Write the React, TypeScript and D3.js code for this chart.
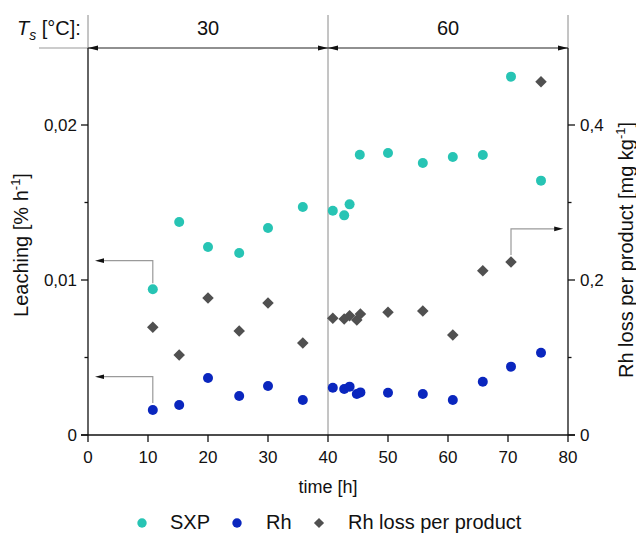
import React from "react";
import * as d3 from "d3";

// ---- data ----
const sxpTime = [10.8, 15.2, 20, 25.2, 30, 35.8, 40.8, 42.7, 43.6, 45.3, 50, 55.8, 60.8, 65.8, 70.5, 75.5];
const sxpLeaching = [0.0094, 0.01374, 0.01213, 0.01174, 0.01335, 0.01471, 0.01447, 0.01417, 0.01488, 0.01808, 0.01819, 0.01755, 0.01794, 0.01806, 0.02312, 0.01641];

const rhTime = [10.8, 15.2, 20, 25.2, 30, 35.8, 40.8, 42.7, 43.6, 44.8, 45.4, 50, 55.8, 60.8, 65.8, 70.5, 75.5];
const rhLeaching = [0.00161, 0.00194, 0.00368, 0.00252, 0.00316, 0.00226, 0.00305, 0.00297, 0.00312, 0.00265, 0.00275, 0.00273, 0.00265, 0.00226, 0.00344, 0.00441, 0.00531];
const rhLossPerProduct = [0.139, 0.1032, 0.1768, 0.1342, 0.1703, 0.1187, 0.1506, 0.1497, 0.1539, 0.1484, 0.1561, 0.1583, 0.16, 0.129, 0.212, 0.2232, 0.4559];

const xTicks = [0, 10, 20, 30, 40, 50, 60, 70, 80];
const leftTicks = [0, 0.01, 0.02];
const leftTickLabels = ["0", "0,01", "0,02"];
const leftMinor = [0.005, 0.015];
const rightTicks = [0, 0.2, 0.4];
const rightTickLabels = ["0", "0,2", "0,4"];
const rightMinor = [0.1, 0.3];

const phases = [
  { from: 0, to: 40, label: "30" },
  { from: 40, to: 80, label: "60" },
];

const legendItems = ["SXP", "Rh", "Rh loss per product"];

const CYAN = "#27C4B4";
const BLUE = "#0A26BE";
const GRAY = "#505050";
const FONT = "'Liberation Sans', Arial, Helvetica, sans-serif";

export default function App() {
  const x = d3.scaleLinear().domain([0, 80]).range([88, 568]);
  const yL = d3.scaleLinear().domain([0, 0.025]).range([435, 47.5]);
  const yR = d3.scaleLinear().domain([0, 0.5]).range([435, 47.5]);

  const diamond = d3.symbol().type(d3.symbolDiamond2).size(85)();
  const legendDiamond = d3.symbol().type(d3.symbolDiamond2).size(66)();

  const topY = 48;
  const headL = 10;
  const headW = 2.6;

  const arrowHead = (tx: number, ty: number, dir: number, len = headL, w = headW) =>
    `M${tx},${ty} L${tx - dir * len},${ty - w} L${tx - dir * len},${ty + w} Z`;

  // annotation arrows (data coordinates)
  const annSxpTop = yL(0.01125);
  const annRhTop = yL(0.00376);
  const annRightTop = yR(0.266);

  return (
    <svg
      width={636}
      height={533}
      style={{ position: "absolute", left: 0, top: 0, background: "#fff" }}
      fontFamily={FONT}
    >
      {/* top phase header */}
      <line x1={39} x2={x(0)} y1={topY} y2={topY} stroke="#9a9a9a" strokeWidth={1.2} />
      {[0, 40, 80].map((t) => (
        <line key={t} x1={x(t)} x2={x(t)} y1={15} y2={t === 40 ? yL(0) : topY} stroke="#8a8a8a" strokeWidth={1} />
      ))}
      {phases.map((p) => (
        <g key={p.label}>
          <line x1={x(p.from)} x2={x(p.to)} y1={topY} y2={topY} stroke="#222" strokeWidth={1.1} />
          <path d={arrowHead(x(p.from), topY, -1)} fill="#111" />
          <path d={arrowHead(x(p.to), topY, 1)} fill="#111" />
          <text x={(x(p.from) + x(p.to)) / 2} y={35} fontSize={20} textAnchor="middle" fill="#111">
            {p.label}
          </text>
        </g>
      ))}
      <text x={17} y={35} fontSize={20} fill="#111">
        <tspan fontStyle="italic">T</tspan>
        <tspan fontStyle="italic" fontSize={14} dy={5}>s</tspan>
        <tspan dy={-5}> [°C]:</tspan>
      </text>

      {/* axes */}
      <line x1={x(0)} x2={x(0)} y1={topY} y2={yL(0)} stroke="#111" strokeWidth={1.3} />
      <line x1={x(80)} x2={x(80)} y1={topY} y2={yL(0)} stroke="#111" strokeWidth={1.3} />
      <line x1={x(0) - 7} x2={x(80) + 7} y1={yL(0)} y2={yL(0)} stroke="#111" strokeWidth={1.3} />

      {xTicks.map((t) => (
        <g key={t}>
          <line x1={x(t)} x2={x(t)} y1={yL(0)} y2={yL(0) + 7} stroke="#111" strokeWidth={1.3} />
          <text x={x(t)} y={463} fontSize={17} textAnchor="middle" fill="#111">
            {t}
          </text>
        </g>
      ))}
      {leftTicks.map((v, i) => (
        <g key={v}>
          <line x1={x(0) - 7} x2={x(0)} y1={yL(v)} y2={yL(v)} stroke="#111" strokeWidth={1.3} />
          <text x={77} y={yL(v) + 6} fontSize={17} textAnchor="end" fill="#111">
            {leftTickLabels[i]}
          </text>
        </g>
      ))}
      {leftMinor.map((v) => (
        <line key={v} x1={x(0) - 3.5} x2={x(0)} y1={yL(v)} y2={yL(v)} stroke="#111" strokeWidth={1.3} />
      ))}
      {rightTicks.map((v, i) => (
        <g key={v}>
          <line x1={x(80)} x2={x(80) + 7} y1={yR(v)} y2={yR(v)} stroke="#111" strokeWidth={1.3} />
          <text x={580} y={yR(v) + 6} fontSize={17} textAnchor="start" fill="#111">
            {rightTickLabels[i]}
          </text>
        </g>
      ))}
      {rightMinor.map((v) => (
        <line key={v} x1={x(80)} x2={x(80) + 3.5} y1={yR(v)} y2={yR(v)} stroke="#111" strokeWidth={1.3} />
      ))}

      {/* axis titles */}
      <text x={328} y={493} fontSize={18} textAnchor="middle" fill="#111">
        time [h]
      </text>
      <text transform="translate(28,245) rotate(-90)" fontSize={20} textAnchor="middle" fill="#111">
        Leaching [% h<tspan fontSize={13} dy={-8}>-1</tspan>
        <tspan dy={8}>]</tspan>
      </text>
      <text transform="translate(633,250) rotate(-90)" fontSize={20} textAnchor="middle" fill="#111">
        Rh loss per product [mg kg<tspan fontSize={13} dy={-8}>-1</tspan>
        <tspan dy={8}>]</tspan>
      </text>

      {/* annotation arrows */}
      <g stroke="#9a9a9a" strokeWidth={1.2} fill="none">
        <polyline points={`${x(10.8)},${yL(0.0094) - 6} ${x(10.8)},${annSxpTop} ${x(1.17) + 8},${annSxpTop}`} />
        <polyline points={`${x(10.8)},${yL(0.00161) - 7} ${x(10.8)},${annRhTop} ${x(1.17) + 8},${annRhTop}`} />
        <polyline points={`${x(70.5)},${yR(0.2232) - 7} ${x(70.5)},${annRightTop} ${x(79.2) - 8},${annRightTop}`} />
      </g>
      <path d={arrowHead(x(1.17), annSxpTop, -1, 9, 2.3)} fill="#111" />
      <path d={arrowHead(x(1.17), annRhTop, -1, 9, 2.3)} fill="#111" />
      <path d={arrowHead(x(79.2), annRightTop, 1, 9, 2.3)} fill="#111" />

      {/* data */}
      {rhTime.map((t, i) => (
        <path key={"d" + i} d={diamond} transform={`translate(${x(t)},${yR(rhLossPerProduct[i])})`} fill={GRAY} />
      ))}
      {sxpTime.map((t, i) => (
        <circle key={"s" + i} cx={x(t)} cy={yL(sxpLeaching[i])} r={5} fill={CYAN} />
      ))}
      {rhTime.map((t, i) => (
        <circle key={"r" + i} cx={x(t)} cy={yL(rhLeaching[i])} r={5} fill={BLUE} />
      ))}

      {/* legend */}
      <circle cx={142} cy={523} r={4.7} fill={CYAN} />
      <text x={170} y={529} fontSize={20} fill="#111">{legendItems[0]}</text>
      <circle cx={237} cy={523} r={4.7} fill={BLUE} />
      <text x={266} y={529} fontSize={20} fill="#111">{legendItems[1]}</text>
      <path d={legendDiamond} transform="translate(319,523)" fill={GRAY} />
      <text x={348} y={529} fontSize={20} fill="#111">{legendItems[2]}</text>
    </svg>
  );
}
